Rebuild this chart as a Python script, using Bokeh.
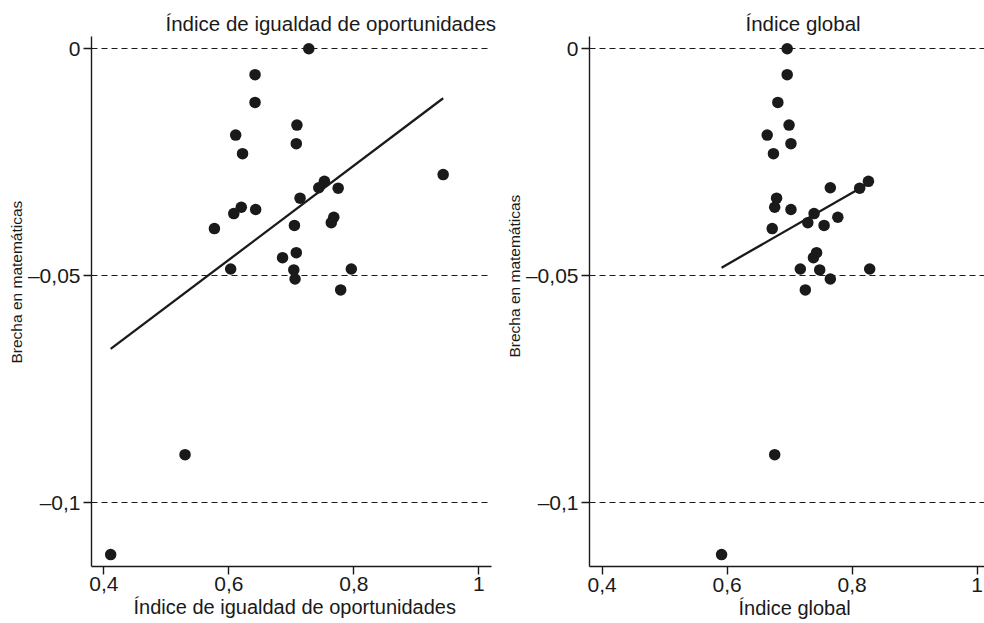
from bokeh.plotting import figure
from bokeh.layouts import row
from bokeh.models import Range1d, FixedTicker, Title
from bokeh.embed import file_html
from bokeh.resources import INLINE

# ---------------- data ----------------
titles = ["Índice de igualdad de oportunidades", "Índice global"]
x_labels = ["Índice de igualdad de oportunidades", "Índice global"]
y_label = "Brecha en matemáticas"

x_ticks = [0.4, 0.6, 0.8, 1.0]
x_tick_labels = ["0,4", "0,6", "0,8", "1"]
y_ticks = [0.0, -0.05, -0.1]
y_tick_labels = ["0", "\u20130,05", "\u20130,1"]

opp_x = [0.728, 0.642, 0.642, 0.709, 0.611, 0.708, 0.622, 0.943, 0.753, 0.744,
         0.775, 0.714, 0.620, 0.643, 0.608, 0.768, 0.764, 0.577, 0.705, 0.708,
         0.686, 0.603, 0.704, 0.796, 0.706, 0.779, 0.530, 0.411]
opp_y = [0.0, -0.0057, -0.0118, -0.0168, -0.0190, -0.0209, -0.0231, -0.0277, -0.0292, -0.0306,
         -0.0307, -0.0329, -0.0349, -0.0354, -0.0363, -0.0371, -0.0383, -0.0396, -0.0389, -0.0449,
         -0.0460, -0.0485, -0.0487, -0.0485, -0.0507, -0.0531, -0.0894, -0.1114]

glob_x = [0.696, 0.696, 0.681, 0.699, 0.664, 0.702, 0.674, 0.765, 0.812, 0.826,
          0.679, 0.676, 0.702, 0.739, 0.777, 0.729, 0.755, 0.672, 0.743, 0.738,
          0.717, 0.748, 0.828, 0.765, 0.725, 0.676, 0.591]
glob_y = [0.0, -0.0057, -0.0118, -0.0168, -0.0190, -0.0209, -0.0231, -0.0306, -0.0307, -0.0292,
          -0.0329, -0.0349, -0.0354, -0.0363, -0.0371, -0.0383, -0.0389, -0.0396, -0.0449, -0.0460,
          -0.0485, -0.0487, -0.0485, -0.0507, -0.0531, -0.0894, -0.1114]

opp_fit_x = [0.411, 0.943]
opp_fit_y = [-0.0661, -0.0109]
glob_fit_x = [0.591, 0.828]
glob_fit_y = [-0.0482, -0.0295]

# ---------------- styling ----------------
FONT = "Liberation Sans"
INK = "#1a1a1a"
Y_RANGE = (-0.11403, 0.00271)


def make_panel(width, border_left, border_right, x_range, xs, ys, fx, fy,
               title, title_off, xlab, xlab_off, ylab_off, tick_standoff):
    p = figure(width=width, height=623, x_range=Range1d(*x_range),
               y_range=Range1d(*Y_RANGE), output_backend="svg",
               toolbar_location=None, min_border_left=border_left,
               min_border_right=border_right, min_border_top=36,
               min_border_bottom=57)
    p.title.visible = False
    p.outline_line_color = None
    p.background_fill_color = "white"
    p.border_fill_color = "white"

    p.xgrid.visible = False
    p.ygrid.ticker = FixedTicker(ticks=y_ticks)
    p.ygrid.grid_line_color = INK
    p.ygrid.grid_line_width = 1
    p.ygrid.grid_line_dash = "6 4"

    p.xaxis.ticker = FixedTicker(ticks=x_ticks)
    p.xaxis.major_label_overrides = dict(zip(x_ticks, x_tick_labels))
    p.xaxis.major_label_standoff = tick_standoff
    p.yaxis.ticker = FixedTicker(ticks=y_ticks)
    p.yaxis.major_label_overrides = dict(zip(y_ticks, y_tick_labels))
    p.yaxis.major_label_orientation = "horizontal"
    p.yaxis.major_label_standoff = 3

    p.axis.axis_line_color = INK
    p.axis.axis_line_width = 1.4
    p.axis.major_tick_line_color = INK
    p.axis.major_tick_line_width = 1.4
    p.axis.major_tick_out = 8
    p.axis.major_tick_in = 0
    p.axis.minor_tick_line_color = None
    p.axis.major_label_text_font = FONT
    p.axis.major_label_text_font_size = "21px"
    p.axis.major_label_text_color = INK

    p.line(fx, fy, line_color=INK, line_width=2.3)
    p.scatter(xs, ys, size=11.5, fill_color=INK, line_color=None)

    p.add_layout(Title(text=title, align="left", offset=title_off, standoff=4,
                       text_font=FONT, text_font_size="20.5px",
                       text_font_style="normal", text_color=INK), "above")
    p.add_layout(Title(text=xlab, align="left", offset=xlab_off, standoff=0,
                       text_font=FONT, text_font_size="20px",
                       text_font_style="normal", text_color=INK), "below")
    p.add_layout(Title(text=y_label, align="left", offset=ylab_off, standoff=0,
                       text_font=FONT, text_font_size="15.5px",
                       text_font_style="normal", text_color=INK), "left")
    return p


p1 = make_panel(500, 91, 9, (0.38032, 1.02032), opp_x, opp_y, opp_fit_x, opp_fit_y,
                titles[0], 74, x_labels[0], 42, 203, 2)
p2 = make_panel(484, 89, 0, (0.37968, 1.01168), glob_x, glob_y, glob_fit_x, glob_fit_y,
                titles[1], 156, x_labels[1], 149, 209, 3)

layout = row(p1, p2)
open("out.html", "w").write(file_html(layout, INLINE))
